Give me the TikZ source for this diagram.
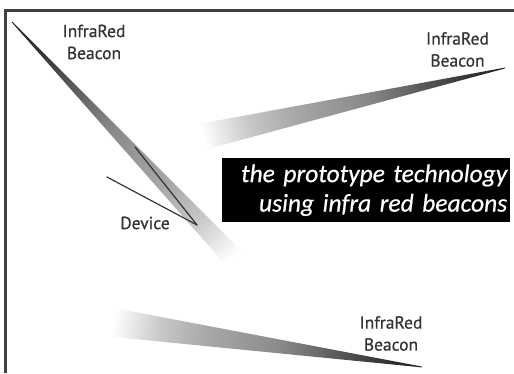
\documentclass[tikz,border=0pt]{standalone}
\usepackage{fontspec}
\newfontfamily\labelfont[FakeBold=0.6]{PT Sans}
\newfontfamily\capfont[FakeBold=0.5]{Carlito}

% beam greys
\definecolor{frameGrey}{HTML}{404040}
\definecolor{inkGrey}{HTML}{333333}
\definecolor{bA}{HTML}{1E1E1E}
\definecolor{bB}{HTML}{3C3C3C}
\definecolor{bC}{HTML}{8A8A8A}
\definecolor{bD}{HTML}{A8A8A8}
\definecolor{bE}{HTML}{C6C6C6}
\definecolor{bF}{HTML}{E2E2E2}

% tip at the left (25bp), fading to white at the right (75bp)
\pgfdeclarehorizontalshading{beamfade}{100bp}{%
  color(0bp)=(bA); color(25bp)=(bA); color(33bp)=(bB); color(48bp)=(bC);
  color(60bp)=(bD); color(67bp)=(bE); color(71bp)=(bF); color(75bp)=(white);
  color(100bp)=(white)}

\tikzset{
  frameline/.style={draw=frameGrey, line width=2.5pt},
  beacon/.style={font=\labelfont\fontsize{17.5}{22}\selectfont, text=inkGrey, align=center, inner sep=0pt},
  devline/.style={draw=inkGrey, line width=1.2pt, line cap=round},
  caption/.style={fill=black, text=white, font=\capfont\itshape\fontsize{25.5}{29.5}\selectfont,
    align=right, text width=282pt, minimum width=288pt, minimum height=64pt,
    inner xsep=3pt, inner ysep=0pt, anchor=north west},
}

\newcommand{\beamwedge}[4]{% tip, angle, length, half width
  \begin{scope}[transform canvas={shift={#1}, rotate=#2}]
    \shade[shading=beamfade] (0,0.4) -- (#3,#4) -- (#3,-#4) -- (0,-0.4) -- cycle;
  \end{scope}}

\begin{document}
\begin{tikzpicture}[x=1pt,y=1pt]
  \useasboundingbox[fill=white] (0,0) rectangle (514,373);

  % light beams from the three beacons
  \beamwedge{(12,351)}{-46.8}{322}{10.5}
  \beamwedge{(505,305)}{192.8}{310}{13.2}
  \beamwedge{(422,6)}{171.8}{312}{14.4}

  % frame
  \draw[frameline] (5.5,0) -- (5.5,362.5) -- (514,362.5);

  % device receiving the beams
  \coordinate (conv) at (197,148);
  \coordinate (inA) at (135,226);
  \coordinate (devA) at (107,196);
  \draw[devline] (inA) -- (conv);
  \draw[devline] (devA) -- (conv);

  % labels
  \node[beacon] (bTL) at (94,331) {InfraRed\\Beacon};
  \node[beacon] (bTR) at (457.5,323.5) {InfraRed\\Beacon};
  \node[beacon] (bBR) at (391,39.5) {InfraRed\\Beacon};
  \node[beacon] (dev) at (145,150) {Device};

  \node[caption] (cap) at (222,215) {the prototype technology\\using infra red beacons};
\end{tikzpicture}
\end{document}
